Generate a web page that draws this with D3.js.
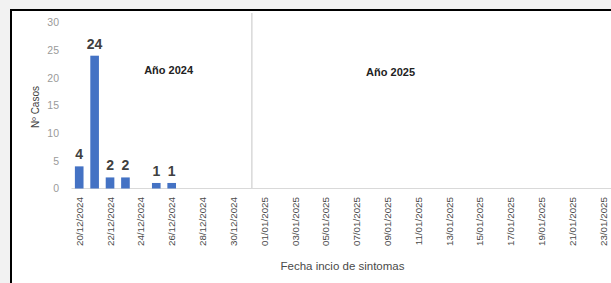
<!DOCTYPE html>
<html><head><meta charset="utf-8">
<script src="https://cdn.jsdelivr.net/npm/d3@7"></script>
<style>html,body{margin:0;padding:0;background:#f2f2f2;}svg{display:block;}</style>
</head><body>
<script>
// Data
const dates = ["20/12/2024","21/12/2024","22/12/2024","23/12/2024","24/12/2024","25/12/2024","26/12/2024","27/12/2024","28/12/2024","29/12/2024","30/12/2024","31/12/2024","01/01/2025","02/01/2025","03/01/2025","04/01/2025","05/01/2025","06/01/2025","07/01/2025","08/01/2025","09/01/2025","10/01/2025","11/01/2025","12/01/2025","13/01/2025","14/01/2025","15/01/2025","16/01/2025","17/01/2025","18/01/2025","19/01/2025","20/01/2025","21/01/2025","22/01/2025","23/01/2025"];
const cases = [4,24,2,2,0,1,1,0,0,0,0,0,0,0,0,0,0,0,0,0,0,0,0,0,0,0,0,0,0,0,0,0,0,0,0];
const yTicks = [0,5,10,15,20,25,30];
const tickLabels = dates.filter((d,i)=>i%2===0);
const yearLabels = ["Año 2024","Año 2025"];
const yTitle = "Nº Casos";
const xTitle = "Fecha incio de sintomas";

const W = 611, H = 283;
const FONT = "Liberation Sans, Arial, sans-serif";
const svg = d3.select("body").append("svg").attr("width",W).attr("height",H);
svg.append("rect").attr("x",11).attr("y",10).attr("width",W+20).attr("height",H+20)
  .attr("fill","#fff").attr("stroke","#000").attr("stroke-width",2);

const x = d3.scaleBand().domain(dates).range([71.5,611]).paddingInner(0.44).paddingOuter(0.22);
const y = d3.scaleLinear().domain([0,30]).range([188.5,22.5]);
const step = x.step();
const cx = d => x(d) + x.bandwidth()/2;

// separator
const sepX = cx("31/12/2024") + step*0.2;
svg.append("line").attr("x1",sepX).attr("x2",sepX).attr("y1",13).attr("y2",y(0))
  .attr("stroke","#d9d9d9").attr("stroke-width",1.5);

// axis line
svg.append("line").attr("x1",71.5).attr("x2",W).attr("y1",y(0)).attr("y2",y(0))
  .attr("stroke","#d9d9d9").attr("stroke-width",1);

// y labels
svg.append("g").selectAll("text").data(yTicks).join("text")
  .attr("x",59).attr("y",d=>y(d)).attr("dy","0.35em").attr("text-anchor","end")
  .attr("font-family",FONT).attr("font-size",10.5)
  .attr("fill","#9a9a9a").text(d=>d);

// bars
const data = dates.map((d,i)=>({d, v:cases[i]}));
svg.append("g").selectAll("rect").data(data.filter(e=>e.v>0)).join("rect")
  .attr("x",e=>x(e.d)).attr("width",x.bandwidth())
  .attr("y",e=>y(e.v)).attr("height",e=>y(0)-y(e.v)).attr("fill","#4472C4");

// data labels
svg.append("g").selectAll("text").data(data.filter(e=>e.v>0)).join("text")
  .attr("x",e=>cx(e.d)).attr("y",e=>y(e.v)-7).attr("text-anchor","middle")
  .attr("font-family",FONT).attr("font-size",14).attr("font-weight","bold")
  .attr("fill","#404040").text(e=>e.v);

// x tick labels
svg.append("g").selectAll("text").data(tickLabels).join("text")
  .attr("transform",d=>`translate(${cx(d)+3.5},197) rotate(-90)`).attr("text-anchor","end")
  .attr("font-family",FONT).attr("font-size",9.8)
  .attr("fill","#4a4a4a").text(d=>d);

// year labels
svg.append("text").attr("x",cx("25/12/2024")+step*0.8).attr("y",y(21.4)).attr("dy","0.35em")
  .attr("text-anchor","middle").attr("font-family",FONT)
  .attr("font-size",11).attr("font-weight","bold").attr("fill","#222").text(yearLabels[0]);
svg.append("text").attr("x",cx("07/01/2025")+step*2.2).attr("y",y(21.1)).attr("dy","0.35em")
  .attr("text-anchor","middle").attr("font-family",FONT)
  .attr("font-size",11).attr("font-weight","bold").attr("fill","#222").text(yearLabels[1]);

// axis titles
svg.append("text").attr("transform","translate(39,107) rotate(-90)").attr("text-anchor","middle")
  .attr("font-family",FONT).attr("font-size",10)
  .attr("fill","#404040").text(yTitle);
svg.append("text").attr("x",342.5).attr("y",270).attr("text-anchor","middle")
  .attr("font-family",FONT).attr("font-size",11.5)
  .attr("fill","#4a4a4a").text(xTitle);
</script>
</body></html>
